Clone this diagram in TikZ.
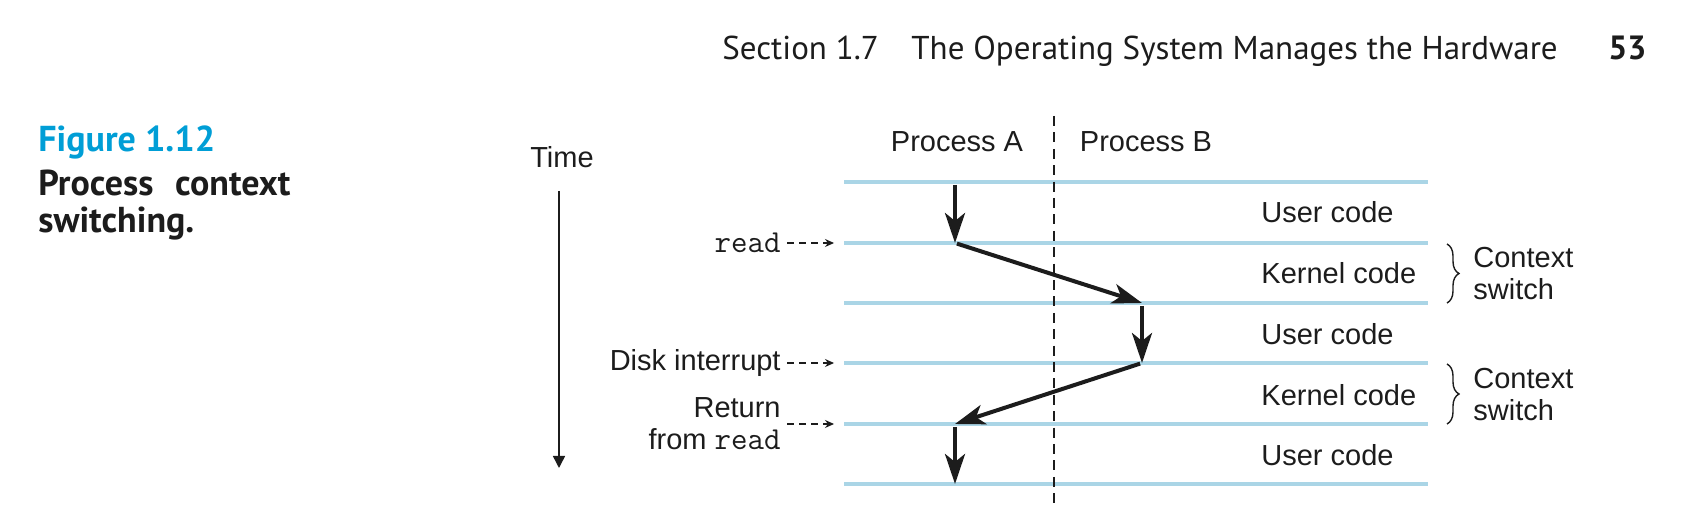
\documentclass[tikz,border=0pt]{standalone}
\usepackage{fontspec}
\setmainfont{Liberation Sans}
\newfontfamily\hdfont{PT Sans}
\usetikzlibrary{arrows.meta,decorations.pathreplacing}
\definecolor{rulecol}{RGB}{170,213,230}
\definecolor{figblue}{RGB}{0,158,214}
\definecolor{ink}{RGB}{28,28,28}
\newcommand{\codefont}{\ttfamily\fontsize{16}{16}\selectfont}
\begin{document}
\begin{tikzpicture}[x=0.5pt,y=-0.5pt,
  lbl/.style={font=\fontsize{14.5}{16}\selectfont, inner sep=0pt, text=ink},
  hd/.style={font=\hdfont\fontsize{16.5}{18}\selectfont, inner sep=0pt, anchor=base west, text=ink},
  captxt/.style={font=\hdfont\bfseries\fontsize{18}{19}\selectfont, inner sep=0pt, anchor=base west, text=ink},
  timeline/.style={draw=rulecol, line width=2pt},
  flow/.style={draw=ink, line width=2pt, -{Stealth[length=15pt,width=10pt,inset=4pt]}},
  pointer/.style={draw=ink, line width=0.55pt, dash pattern=on 3.5pt off 2.5pt, -{Stealth[length=4.5pt,width=4pt]}},
  brc/.style={draw=ink, line width=0.7pt, decorate, decoration={brace, amplitude=6pt}},
]
\useasboundingbox (0,0) rectangle (1686,522);

% header
\node[hd] (sec) at (722,60) {Section 1.7};
\node[hd] (ttl) at (911,60) {The Operating System Manages the Hardware};
\node[hd, font=\hdfont\bfseries\fontsize{16.8}{18}\selectfont] (pg) at (1608,60) {53};

% caption
\node[captxt, text=figblue] (fig) at (38,152) {Figure 1.12};
\node[captxt] (cap1) at (38,196) {\makebox[126pt][s]{Process context}};
\node[captxt] (cap2) at (38,233) {switching.};

% timelines
\foreach \i/\y in {0/182,1/243,2/303,3/363,4/424,5/484}{
  \coordinate (L\i w) at (844,\y);
  \coordinate (L\i e) at (1428,\y);
  \draw[timeline] (L\i w) -- (L\i e);
}

% process divider
\coordinate (dtop) at (1054,116);
\coordinate (dbot) at (1054,505);
\draw[ink, line width=0.6pt, dash pattern=on 5pt off 3.2pt] (dtop) -- (dbot);

\node[lbl] (pA) at (957,142) {Process A};
\node[lbl] (pB) at (1146,142) {Process B};

% time axis
\node[lbl] (time) at (562,157) {Time};
\coordinate (t0) at (559,191);
\coordinate (t1) at (559,468);
\draw[ink, line width=0.75pt, -{Triangle[length=6pt,width=6pt]}] (t0) -- (t1);

% region labels
\node[lbl, anchor=west] (u1) at (1261,212) {User code};
\node[lbl, anchor=west] (k1) at (1261,273) {Kernel code};
\node[lbl, anchor=west] (u2) at (1261,334) {User code};
\node[lbl, anchor=west] (k2) at (1261,395) {Kernel code};
\node[lbl, anchor=west] (u3) at (1261,455) {User code};

% braces
\coordinate (br1a) at (1447,244);
\coordinate (br1b) at (1447,303);
\coordinate (br2a) at (1447,364);
\coordinate (br2b) at (1447,424);
\draw[brc] (br1a) -- (br1b);
\draw[brc] (br2a) -- (br2b);
\node[lbl, anchor=west, align=left] (cs1) at (1473,274) {Context\\switch};
\node[lbl, anchor=west, align=left] (cs2) at (1473,395) {Context\\switch};

% flow points
\coordinate (a0) at (955,185);
\coordinate (a1) at (955,243);
\coordinate (b2) at (1142,303);
\coordinate (b3) at (1142,363);
\coordinate (a4) at (955,424);
\coordinate (a5) at (955,484);

\draw[flow] (a0) -- (a1);
\draw[flow, shorten <=1pt] (a1) -- (b2);
\draw[flow, shorten <=1.5pt] (b2) -- (b3);
\draw[flow, shorten <=1pt] (b3) -- (a4);
\draw[flow, shorten <=1.5pt] (a4) -- (a5);

% event labels
\node[lbl, anchor=east] (rd) at (781,243) {\codefont read};
\node[lbl, anchor=east] (di) at (781,363) {Disk interrupt};
\node[lbl, anchor=east, align=right] (rt) at (781,424) {Return\\from {\codefont read}};
\coordinate (r1) at (834,243);
\coordinate (r3) at (834,363);
\coordinate (r4) at (834,424);
\draw[pointer, shorten <=3pt] (rd.east) -- (r1);
\draw[pointer, shorten <=3pt] (di.east) -- (r3);
\draw[pointer, shorten <=3pt] (rt.east) -- (r4);
\end{tikzpicture}
\end{document}
